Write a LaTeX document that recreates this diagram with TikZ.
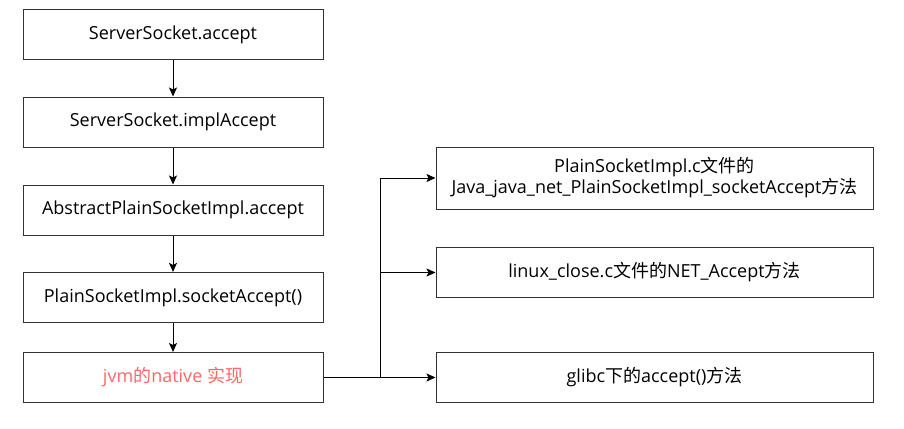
\documentclass[tikz,border=0pt]{standalone}
\usepackage{fontspec}
\setmainfont{Open Sans}
\newfontfamily\cjk{Noto Sans CJK SC}
\usetikzlibrary{arrows.meta}
\definecolor{boxline}{HTML}{333333}
\definecolor{redtxt}{HTML}{FF6666}
\begin{document}
\begin{tikzpicture}[x=1pt,y=-1pt,
  lbox/.style={draw=boxline,line width=1pt,minimum width=300pt,minimum height=50pt,inner sep=0pt,align=center,font=\fontsize{18}{21}\selectfont},
  rbox/.style={draw=boxline,line width=1pt,minimum width=437pt,inner sep=0pt,align=center,font=\fontsize{18}{21}\selectfont},
  arr/.style={draw=black,line width=1pt,-{Stealth[length=9pt,width=8pt,inset=2pt]}}]
\useasboundingbox (0,0) rectangle (904,428);
\node[lbox] (a) at (173,34.75) {ServerSocket.accept};
\node[lbox] (b) at (173,122) {ServerSocket.implAccept};
\node[lbox] (c) at (173,210) {AbstractPlainSocketImpl.accept};
\node[lbox] (d) at (173,297.4) {PlainSocketImpl.socketAccept()};
\node[lbox,text=redtxt] (e) at (173,377.5) {jvm{\cjk 的}native {\cjk 实现}};
\node[rbox,minimum height=62pt] (A) at (654.5,178) {PlainSocketImpl.c{\cjk 文件的}\\Java\_java\_net\_PlainSocketImpl\_socketAccept{\cjk 方法}};
\node[rbox,minimum height=49.5pt] (B) at (654.5,272.5) {linux\_close.c{\cjk 文件的}NET\_Accept{\cjk 方法}};
\node[rbox,minimum height=50pt] (C) at (654.5,377.5) {glibc{\cjk 下的}accept(){\cjk 方法}};
\draw[arr] (a) -- (b);
\draw[arr] (b) -- (c);
\draw[arr] (c) -- (d);
\draw[arr] (d) -- (e);
\coordinate (j) at (380,377.5);
\draw[arr] (e.east) -- (j) |- (A.west);
\draw[arr] (j) |- (B.west);
\draw[arr] (e.east) -- (C.west);
\end{tikzpicture}
\end{document}
